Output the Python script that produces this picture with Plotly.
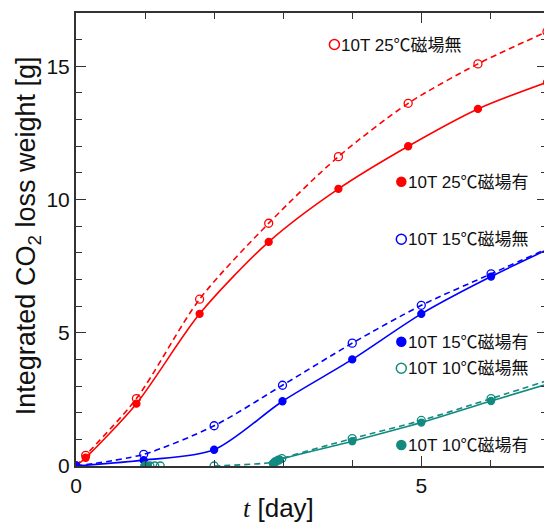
import plotly.graph_objects as go

# ---------------- data ----------------
red_x = [0, 0.14, 0.875, 1.79, 2.79, 3.80, 4.81, 5.82, 6.82]
red_on = [0, 0.31, 2.34, 5.71, 8.41, 10.40, 12.00, 13.40, 14.40]    # 25℃ 磁場有
red_off = [0, 0.40, 2.53, 6.26, 9.11, 11.61, 13.61, 15.09, 16.30]   # 25℃ 磁場無

blue_x = [0, 0.98, 2.0, 2.99, 4.0, 5.0, 6.01, 7.0]
blue_on = [0, 0.22, 0.61, 2.43, 4.00, 5.71, 7.11, 8.33]             # 15℃ 磁場有
blue_off = [0, 0.44, 1.51, 3.03, 4.61, 6.03, 7.21, 8.36]            # 15℃ 磁場無

teal_off_x = [1.00, 1.07, 1.14, 1.22, 2.00, 2.88, 2.93, 2.98, 4.00, 5.00, 6.01, 7.00]
teal_off = [0, 0, 0, 0, 0, 0.15, 0.22, 0.28, 1.03, 1.71, 2.53, 3.35]  # 10℃ 磁場無
teal_on_x = [0.99, 1.04, 2.85, 2.90, 2.95, 4.00, 5.00, 6.01, 7.00]
teal_on = [0, 0, 0.10, 0.17, 0.24, 0.93, 1.63, 2.44, 3.21]           # 10℃ 磁場有

legend_labels = ["10T 25℃磁場無", "10T 25℃磁場有", "10T 15℃磁場無",
                 "10T 15℃磁場有", "10T 10℃磁場無", "10T 10℃磁場有"]

RED, BLUE, TEAL = "#ff0000", "#0000ff", "#128a80"
FONT = "Liberation Sans, Arial, Noto Sans CJK JP, sans-serif"

# page is offset by the default 8px body margin
OFF = 8
W, H = 552 - OFF, 523 - OFF
L, R, T, B = 76 - OFF, 3, 13 - OFF, 57
PW, PH = W - L - R, H - T - B
PLOT_LEFT, PLOT_BOTTOM = 76, 13 + PH  # page pixel coords


def px(xp):
    return (xp - PLOT_LEFT) / PW


def py(yp):
    return (PLOT_BOTTOM - yp) / PH


fig = go.Figure()


def add_series(x, y, color, filled, dash, line_from=0):
    fig.add_trace(go.Scatter(
        x=x[line_from:], y=y[line_from:], mode="lines",
        line=dict(color=color, width=1.6, dash=dash, shape="spline", smoothing=0.8),
        hoverinfo="skip", showlegend=False))
    fig.add_trace(go.Scatter(
        x=x, y=y, mode="markers",
        marker=dict(symbol="circle" if filled else "circle-open",
                    size=7 if filled else 8, color=color,
                    line=dict(width=1.3, color=color)),
        showlegend=False))


add_series(red_x, red_off, RED, False, "6px,4px")
add_series(red_x, red_on, RED, True, "solid")
add_series(blue_x, blue_off, BLUE, False, "6px,4px")
add_series(blue_x, blue_on, BLUE, True, "solid")
add_series(teal_off_x, teal_off, TEAL, False, "6px,4px", line_from=4)
add_series(teal_on_x, teal_on, TEAL, True, "solid", line_from=2)

# ---------------- legend (text labels placed beside curves) ----------------
legend_pos = [(335.5, 44.5), (402.7, 181.7), (402.7, 239.3),
              (402.7, 341.7), (402.7, 368.3), (402.7, 445.0)]
legend_col = [RED, RED, BLUE, BLUE, TEAL, TEAL]
legend_fill = [False, True, False, True, False, True]

shapes = []
annotations = []
for (mx, my), lab, col, fill in zip(legend_pos, legend_labels, legend_col, legend_fill):
    r = 4.5 if fill else 5
    shapes.append(dict(type="circle", xref="paper", yref="paper",
                       xsizemode="pixel", ysizemode="pixel",
                       xanchor=px(mx), yanchor=py(my),
                       x0=-r, x1=r, y0=-r, y1=r,
                       line=dict(color=col, width=1.5),
                       fillcolor=col if fill else "rgba(0,0,0,0)"))
    annotations.append(dict(text=lab, xref="paper", yref="paper",
                            x=px(mx + 5), y=py(my + 0.5), xanchor="left", yanchor="middle",
                            showarrow=False, font=dict(family=FONT, size=17, color="#111")))

annotations.append(dict(
    text="Integrated CO<sub>2</sub> loss weight [g]", textangle=-90,
    xref="paper", yref="paper", x=px(28), y=py(236), xanchor="center", yanchor="middle",
    showarrow=False, font=dict(family=FONT, size=27, color="#111")))
annotations.append(dict(
    text="<span style='font-family:Liberation Serif, Times New Roman, serif'><i>t</i></span> [day]",
    xref="paper", yref="paper", x=px(279), y=py(508), xanchor="center", yanchor="middle",
    showarrow=False, font=dict(family=FONT, size=26, color="#111")))

axis_common = dict(showline=True, linecolor="#333", linewidth=2, mirror="ticks",
                   ticks="inside", ticklen=10, tickwidth=1.2, tickcolor="#333",
                   showgrid=False, zeroline=False,
                   tickfont=dict(family=FONT, size=21, color="#111"))

fig.update_layout(
    width=W, height=H, margin=dict(l=L, r=R, t=T, b=B),
    plot_bgcolor="white", paper_bgcolor="white",
    xaxis=dict(range=[0, 6.82], tickvals=[0, 5], **axis_common,
               minor=dict(dtick=1, tick0=0, ticks="inside", ticklen=6, tickwidth=1.2, tickcolor="#333")),
    yaxis=dict(range=[0, 17], tickvals=[0, 5, 10, 15], **axis_common,
               minor=dict(dtick=1, tick0=0, ticks="inside", ticklen=6, tickwidth=1.2, tickcolor="#333")),
    shapes=shapes, annotations=annotations, showlegend=False)

fig.write_html("out.html")
